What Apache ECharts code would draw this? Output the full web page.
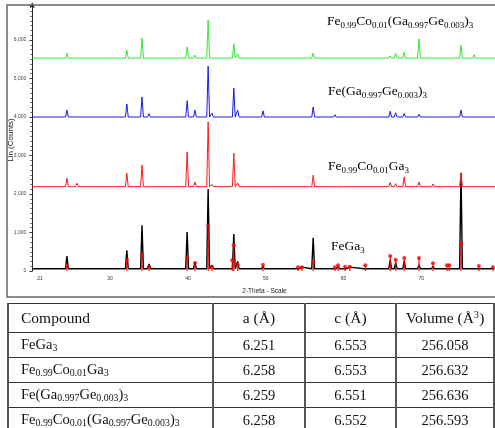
<!DOCTYPE html>
<html><head><meta charset="utf-8">
<script src="https://cdn.jsdelivr.net/npm/echarts@6/dist/echarts.min.js"></script>
<style>
html,body{margin:0;padding:0;background:#fff;}
#c{position:absolute;left:0;top:0;width:495px;height:428px;}
#t{position:absolute;left:7px;top:303px;width:486px;border-collapse:collapse;font-family:'Liberation Serif',serif;color:#111;table-layout:fixed;}
#t th,#t td{border-top:1px solid #333;border-bottom:1px solid #333;border-left:2px solid #555;border-right:2px solid #555;padding:0;text-align:center;font-weight:normal;}
#t th{height:28px;font-size:15.5px;}
#t td{height:24px;font-size:14.5px;}
#t .c1{text-align:left;padding-left:12px;}
#t sub{font-size:0.68em;vertical-align:-0.25em;}
#t sup{font-size:0.68em;vertical-align:0.45em;}
</style></head>
<body>
<div id="c"></div>
<table id="t"></table>
<script>
// ---------------- data ----------------
const xTickLabels = [21, 30, 40, 50, 60, 70];
const yTickLabels = [0, 1000, 2000, 3000, 4000, 5000, 6000];

// FeGa3 (black) pattern
const blackBase = 60;
const blackPeaks = [[24.45,390],[25.75,100],[32.15,540],[34.1,1190],[35.0,180],[39.9,1010],[40.9,230],[42.6,2130],[43.1,150],[45.9,960],[46.4,250],[49.65,120],[54.15,100],[54.65,100],[56.1,860],[58.9,110],[59.3,120],[60.2,100],[60.8,100],[62.8,110],[66.0,280],[66.7,220],[67.8,260],[69.7,160],[71.5,120],[73.3,110],[75.1,2550],[77.4,110],[79.2,100]];
// Fe0.99Co0.01Ga3 (red) pattern
const redBase = 2190;
const redPeaks = [[24.45,2410],[25.75,2280],[32.15,2540],[34.1,2750],[35.0,2240],[39.9,3090],[40.9,2310],[42.6,3870],[43.1,2250],[45.9,3060],[46.4,2290],[49.65,2240],[56.1,2490],[58.9,2240],[60.2,2220],[66.0,2300],[66.7,2270],[67.8,2440],[69.7,2310],[71.5,2260],[75.1,2540]];
// Fe(Ga0.997Ge0.003)3 (blue) pattern
const blueBase = 4000;
const bluePeaks = [[24.45,4180],[32.15,4340],[34.1,4520],[35.0,4090],[39.9,4420],[40.9,4180],[42.6,5320],[43.1,4100],[45.9,4750],[46.4,4180],[49.65,4160],[56.1,4260],[58.9,4060],[60.8,4050],[62.8,4050],[66.0,4150],[66.7,4110],[67.8,4090],[69.7,4070],[71.5,4050],[75.1,4180]];
// Fe0.99Co0.01(Ga0.997Ge0.003)3 (green) pattern
const greenBase = 5530;
const greenPeaks = [[24.45,5660],[32.15,5740],[34.1,6050],[35.0,5570],[39.9,5820],[40.9,5610],[42.6,6520],[45.9,5900],[46.4,5640],[56.1,5660],[66.0,5590],[66.7,5660],[67.8,5690],[69.7,6030],[75.1,5870],[76.8,5620]];
// reference FeGa3 sticks
const refSticks = [[24.45,130],[32.15,290],[34.1,420],[35.0,110],[39.9,340],[40.9,210],[42.6,1170],[43.1,100],[45.7,280],[45.9,670],[46.4,160],[49.65,160],[54.15,100],[54.65,100],[56.1,230],[58.9,100],[59.3,150],[60.2,110],[60.8,110],[62.8,150],[66.0,390],[66.7,290],[67.8,340],[69.7,340],[71.5,200],[73.3,150],[73.6,150],[75.1,730],[77.4,130],[79.2,100]];

// table
const compounds = ['FeGa<sub>3</sub>','Fe<sub>0.99</sub>Co<sub>0.01</sub>Ga<sub>3</sub>','Fe(Ga<sub>0.997</sub>Ge<sub>0.003</sub>)<sub>3</sub>','Fe<sub>0.99</sub>Co<sub>0.01</sub>(Ga<sub>0.997</sub>Ge<sub>0.003</sub>)<sub>3</sub>'];
const aVals = ['6.251','6.258','6.259','6.258'];
const cVals = ['6.553','6.553','6.551','6.552'];
const volVals = ['256.058','256.632','256.636','256.593'];

// ---------------- build ----------------
const X_MIN = 20, X_MAX = 79.47;
function profile(base, peaks, hw){
  const pts = [[X_MIN, base]];
  peaks.forEach(p => { pts.push([p[0]-hw, base], [p[0], p[1]], [p[0]+hw, base]); });
  pts.push([X_MAX, base]);
  return pts;
}
function lineSeries(data, color, w){
  return {type:'line', data:data, symbol:'none', lineStyle:{color:color, width:w}, animation:false, z:3};
}
const serif = 'Liberation Serif';
const rich = {
  m:{fontSize:13.5, fontFamily:serif, fill:'#000'},
  s:{fontSize:9, fontFamily:serif, fill:'#000', padding:[9,0,0,0]}
};
function label(txt, x, y){
  return {type:'text', left:x, top:y, style:{text:txt, rich:rich}, z:10};
}

const chart = echarts.init(document.getElementById('c'), null, {renderer:'canvas'});
chart.setOption({
  animation:false,
  grid:{left:32.3, right:0, top:5.35, bottom:157, containLabel:false},
  xAxis:{type:'value', min:X_MIN, max:X_MAX, axisLine:{show:false}, axisTick:{show:false}, splitLine:{show:false},
    axisLabel:{customValues:xTickLabels, fontSize:5, color:'#333', margin:5, fontFamily:'Arial'}},
  yAxis:{type:'value', min:0, max:6900, interval:1000, splitLine:{show:false},
    axisLine:{show:true, symbol:['none','arrow'], symbolSize:[4,6], symbolOffset:[0,3], lineStyle:{color:'#222', width:1}},
    axisTick:{show:true, length:3, lineStyle:{color:'#444'}},
    minorTick:{show:true, splitNumber:8, length:2, lineStyle:{color:'#666'}},
    axisLabel:{customValues:yTickLabels, fontSize:5, color:'#444', margin:6, fontFamily:'Arial'}},
  series:[
    lineSeries(profile(blackBase, blackPeaks, 0.18), '#000', 1.4),
    {type:'bar', data:refSticks, barWidth:1.2, itemStyle:{color:'#ff0000'}, animation:false, z:4},
    {type:'scatter', data:refSticks, symbol:'circle', symbolSize:4, itemStyle:{color:'#ff0000'}, animation:false, z:5},
    lineSeries(profile(redBase, redPeaks, 0.18), '#ff1a1a', 1),
    lineSeries(profile(blueBase, bluePeaks, 0.18), '#1a1ae6', 1),
    lineSeries(profile(greenBase, greenPeaks, 0.18), '#33e633', 1)
  ],
  graphic:[
    {type:'rect', shape:{x:7, y:5, width:495, height:292}, style:{fill:'none', stroke:'#666', lineWidth:1.5}, z:1},
    {type:'text', x:11, y:140, rotation:Math.PI/2, style:{text:'Lin (Counts)', fontSize:8, fontFamily:'Arial', fill:'#222', align:'center', verticalAlign:'middle'}},
    {type:'text', x:264.5, y:291, style:{text:'2-Theta - Scale', fontSize:6.5, fontFamily:'Arial', fill:'#222', align:'center', verticalAlign:'middle'}},
    label('{m|Fe}{s|0.99}{m|Co}{s|0.01}{m|(Ga}{s|0.997}{m|Ge}{s|0.003}{m|)}{s|3}', 327, 14.5),
    label('{m|Fe(Ga}{s|0.997}{m|Ge}{s|0.003}{m|)}{s|3}', 328, 84.5),
    label('{m|Fe}{s|0.99}{m|Co}{s|0.01}{m|Ga}{s|3}', 328, 159.5),
    label('{m|FeGa}{s|3}', 331, 239.5)
  ]
});

// table
let html = '<colgroup><col style="width:205px"><col style="width:92px"><col style="width:91px"><col style="width:98px"></colgroup>';
html += '<tr><th class="c1">Compound</th><th>a (Å)</th><th>c (Å)</th><th>Volume (Å<sup>3</sup>)</th></tr>';
for (let i = 0; i < compounds.length; i++) {
  html += '<tr><td class="c1">' + compounds[i] + '</td><td>' + aVals[i] + '</td><td>' + cVals[i] + '</td><td>' + volVals[i] + '</td></tr>';
}
document.getElementById('t').innerHTML = html;
</script>
</body></html>
